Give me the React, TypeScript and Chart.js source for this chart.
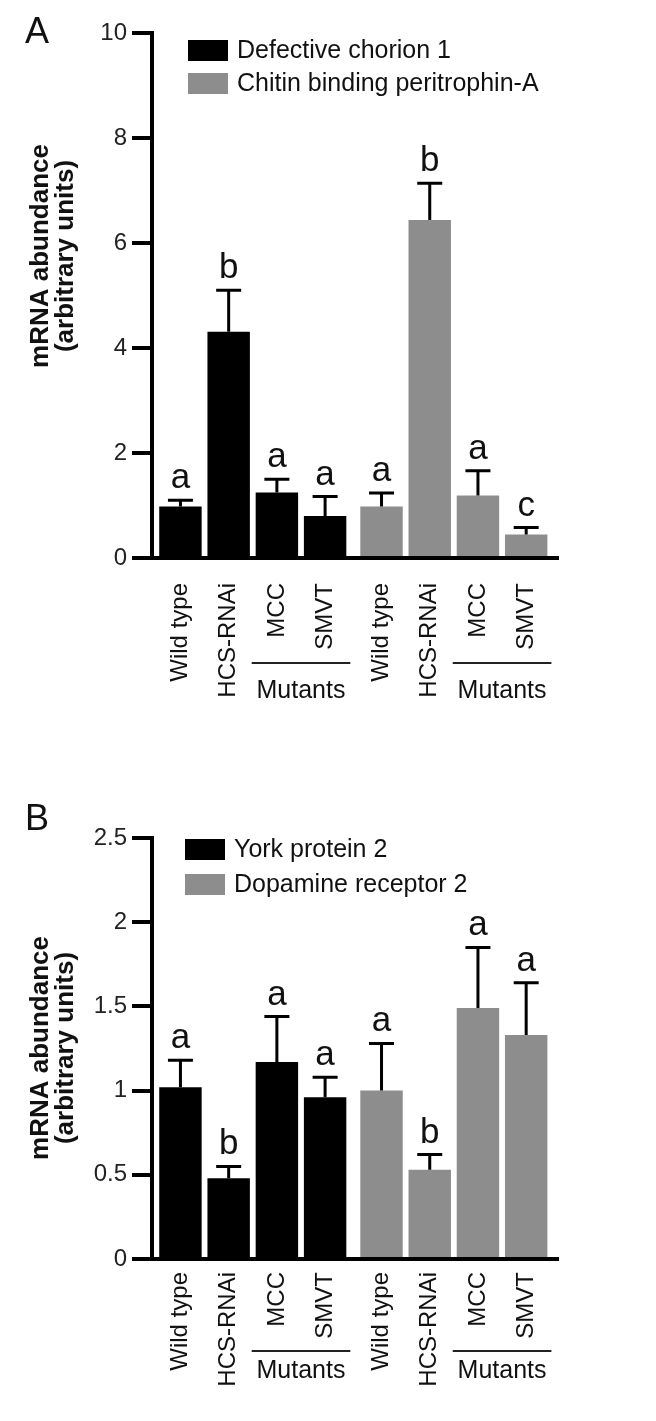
import React, { useEffect, useRef } from 'react';
import { Chart, registerables } from 'chart.js';

Chart.register(...registerables);

const FONT = '"Liberation Sans", Arial, Helvetica, sans-serif';
const TEXT = '#111111';
const BLACK = '#000000';
const GRAY = '#8d8d8d';

// ---------- data ----------
const categories = ['Wild type', 'HCS-RNAi', 'MCC', 'SMVT'];
const groupLabel = 'Mutants';
const groupMembers = ['MCC', 'SMVT'];
const yTitle = ['mRNA abundance', '(arbitrary units)'];

// Panel A
const seriesA = ['Defective chorion 1', 'Chitin binding peritrophin-A'];
const meanA1 = [0.98, 4.31, 1.25, 0.8];
const semA1 = [0.12, 0.79, 0.25, 0.37];
const letterA1 = ['a', 'b', 'a', 'a'];
const meanA2 = [0.98, 6.44, 1.19, 0.45];
const semA2 = [0.26, 0.7, 0.47, 0.13];
const letterA2 = ['a', 'b', 'a', 'c'];
const yTicksA = [0, 2, 4, 6, 8, 10];

// Panel B
const seriesB = ['York protein 2', 'Dopamine receptor 2'];
const meanB1 = [1.02, 0.48, 1.17, 0.96];
const semB1 = [0.16, 0.07, 0.27, 0.12];
const letterB1 = ['a', 'b', 'a', 'a'];
const meanB2 = [1.0, 0.53, 1.49, 1.33];
const semB2 = [0.28, 0.09, 0.36, 0.31];
const letterB2 = ['a', 'b', 'a', 'a'];
const yTicksB = [0, 0.5, 1, 1.5, 2, 2.5];

// ---------- layout ----------
const GROUP_GAP = 0.17;
const X_MIN = -0.59;
const X_MAX = 7.83;
const W = 656;

type Series = { label: string; color: string; mean: number[]; sem: number[]; letters: string[] };
type Panel = {
  tag: string;
  series: Series[];
  yTicks: number[];
  canvasH: number;
  top: number;
  labelPad: number;
  legendX: number;
  legendY: number;
  legendPitch: number;
  titleY: number;
  tagY: number;
  groupLineY: number;
  groupTextY: number;
};

const panelA: Panel = {
  tag: 'A',
  series: [
    { label: seriesA[0], color: BLACK, mean: meanA1, sem: semA1, letters: letterA1 },
    { label: seriesA[1], color: GRAY, mean: meanA2, sem: semA2, letters: letterA2 },
  ],
  yTicks: yTicksA,
  canvasH: 720,
  top: 33,
  labelPad: 25,
  legendX: 188,
  legendY: 40,
  legendPitch: 33,
  titleY: 256,
  tagY: 43,
  groupLineY: 663,
  groupTextY: 698,
};

const panelB: Panel = {
  tag: 'B',
  series: [
    { label: seriesB[0], color: BLACK, mean: meanB1, sem: semB1, letters: letterB1 },
    { label: seriesB[1], color: GRAY, mean: meanB2, sem: semB2, letters: letterB2 },
  ],
  yTicks: yTicksB,
  canvasH: 701,
  top: 118,
  labelPad: 13,
  legendX: 185,
  legendY: 119,
  legendPitch: 35,
  titleY: 328,
  tagY: 110,
  groupLineY: 631,
  groupTextY: 658,
};

const posOf = (d: number, j: number) => d * (categories.length + GROUP_GAP) + j;

function makeChart(canvas: HTMLCanvasElement, p: Panel) {
  const positions: number[] = [];
  const tickLabels: string[] = [];
  p.series.forEach((_s, d) =>
    categories.forEach((c, j) => {
      positions.push(posOf(d, j));
      tickLabels.push(c);
    })
  );

  const datasets: any[] = p.series.map((s, d) => ({
    label: s.label,
    data: s.mean.map((v, j) => ({ x: posOf(d, j), y: v })),
    backgroundColor: s.color,
    borderWidth: 0,
    grouped: false,
    barPercentage: 0.88,
    categoryPercentage: 1,
    errors: s.sem,
    letters: s.letters,
  }));

  const decor = {
    id: 'decor',
    afterDatasetsDraw(chart: any) {
      const { ctx, scales } = chart;
      const x = scales.x;
      const y = scales.y;
      ctx.save();
      chart.data.datasets.forEach((ds: any) => {
        ds.data.forEach((pt: any, j: number) => {
          const xp = x.getPixelForValue(pt.x);
          const yTop = y.getPixelForValue(pt.y);
          const yCap = y.getPixelForValue(pt.y + ds.errors[j]);
          ctx.strokeStyle = BLACK;
          ctx.lineWidth = 3;
          ctx.lineCap = 'butt';
          ctx.beginPath();
          ctx.moveTo(xp, yTop);
          ctx.lineTo(xp, yCap);
          ctx.moveTo(xp - 12.5, yCap);
          ctx.lineTo(xp + 12.5, yCap);
          ctx.stroke();
          ctx.fillStyle = TEXT;
          ctx.font = `35px ${FONT}`;
          ctx.textAlign = 'center';
          ctx.textBaseline = 'alphabetic';
          ctx.fillText(ds.letters[j], xp, yCap - 12);
        });
      });
      ctx.restore();
    },
    afterDraw(chart: any) {
      const { ctx } = chart;
      ctx.save();
      // panel tag
      ctx.fillStyle = TEXT;
      ctx.font = `36px ${FONT}`;
      ctx.textAlign = 'left';
      ctx.textBaseline = 'alphabetic';
      ctx.fillText(p.tag, 25, p.tagY);

      // legend
      chart.data.datasets.forEach((ds: any, i: number) => {
        const yy = p.legendY + i * p.legendPitch;
        ctx.fillStyle = ds.backgroundColor;
        ctx.fillRect(p.legendX, yy, 40, 21);
        ctx.fillStyle = TEXT;
        ctx.font = `25px ${FONT}`;
        ctx.textAlign = 'left';
        ctx.textBaseline = 'middle';
        ctx.fillText(ds.label, p.legendX + 49, yy + 11);
      });

      // y title (two rotated lines)
      ctx.font = `bold 26px ${FONT}`;
      ctx.textAlign = 'center';
      ctx.textBaseline = 'alphabetic';
      ctx.fillStyle = TEXT;
      const baselines = [48, 72.5];
      yTitle.forEach((line, i) => {
        ctx.save();
        ctx.translate(baselines[i], p.titleY);
        ctx.rotate(-Math.PI / 2);
        ctx.fillText(line, 0, 0);
        ctx.restore();
      });

      // group brackets
      const memberIdx = groupMembers.map((m) => categories.indexOf(m));
      chart.data.datasets.forEach((_ds: any, d: number) => {
        const meta = chart.getDatasetMeta(d);
        const bars = memberIdx.map((i) => meta.data[i].getProps(['x', 'width'], true));
        const left = Math.min(...bars.map((b: any) => b.x - b.width / 2)) - 4;
        const right = Math.max(...bars.map((b: any) => b.x + b.width / 2)) + 4;
        ctx.strokeStyle = '#222';
        ctx.lineWidth = 2;
        ctx.beginPath();
        ctx.moveTo(left, p.groupLineY);
        ctx.lineTo(right, p.groupLineY);
        ctx.stroke();
        ctx.fillStyle = TEXT;
        ctx.font = `25px ${FONT}`;
        ctx.textAlign = 'center';
        ctx.textBaseline = 'alphabetic';
        ctx.fillText(groupLabel, (left + right) / 2, p.groupTextY);
      });
      ctx.restore();
    },
  };

  return new Chart(canvas, {
    type: 'bar',
    data: { datasets },
    options: {
      responsive: false,
      animation: false,
      events: [],
      devicePixelRatio: 1,
      layout: { padding: { top: p.top, right: W - 558, bottom: 0, left: 0 } },
      plugins: { legend: { display: false }, tooltip: { enabled: false }, title: { display: false } },
      scales: {
        x: {
          type: 'linear',
          min: X_MIN,
          max: X_MAX,
          offset: false,
          afterBuildTicks: (s: any) => {
            s.ticks = positions.map((v) => ({ value: v }));
          },
          ticks: {
            autoSkip: false,
            minRotation: 90,
            maxRotation: 90,
            padding: p.labelPad,
            color: TEXT,
            font: { family: FONT, size: 24 },
            callback: (_v: any, i: number) => tickLabels[i],
          },
          grid: { display: true, drawOnChartArea: false, drawTicks: false, color: 'rgba(0,0,0,0)' },
          border: { display: true, width: 4, color: BLACK },
          afterFit: (s: any) => {
            s.height = 162;
          },
        },
        y: {
          type: 'linear',
          min: p.yTicks[0],
          max: p.yTicks[p.yTicks.length - 1],
          afterBuildTicks: (s: any) => {
            s.ticks = p.yTicks.map((v) => ({ value: v }));
          },
          ticks: {
            padding: 5,
            color: '#222222',
            font: { family: FONT, size: 24 },
            callback: (v: any) => String(v),
          },
          grid: {
            display: true,
            drawOnChartArea: false,
            drawTicks: true,
            tickLength: 20,
            lineWidth: 4,
            color: BLACK,
          },
          border: { display: true, width: 4, color: BLACK },
          afterFit: (s: any) => {
            s.width = 152;
          },
        },
      },
    } as any,
    plugins: [decor],
  });
}

function PanelChart({ panel }: { panel: Panel }) {
  const ref = useRef<HTMLCanvasElement | null>(null);
  useEffect(() => {
    if (!ref.current) return;
    const chart = makeChart(ref.current, panel);
    return () => chart.destroy();
  }, [panel]);
  return (
    <canvas
      ref={ref}
      width={W}
      height={panel.canvasH}
      style={{ display: 'block', width: W, height: panel.canvasH }}
    />
  );
}

export default function App() {
  return (
    <div
      style={{
        position: 'absolute',
        left: 0,
        top: 0,
        width: W,
        height: 1421,
        background: '#ffffff',
        overflow: 'hidden',
      }}
    >
      <PanelChart panel={panelA} />
      <PanelChart panel={panelB} />
    </div>
  );
}
